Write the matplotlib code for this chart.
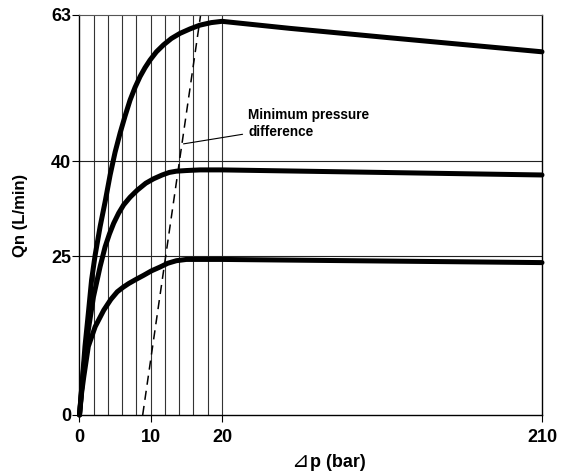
import numpy as np
import matplotlib

matplotlib.use("Agg")
import matplotlib.pyplot as plt

# readings (x in bar, y in L/min)
curve_63_x = [0, 0.4, 0.77, 1.24, 1.7, 2.2, 2.9, 3.6, 4.3, 5.0, 5.7, 6.4, 7.1, 7.8, 8.5,
              9.2, 9.9, 10.8, 11.8, 12.9, 14.1, 15.5, 16.9, 18.5, 20.0, 60, 120, 210]
curve_63_y = [0, 5.5, 10.8, 16.0, 21.3, 25.2, 29.7, 33.6, 37.8, 41.4, 44.4, 47.1, 49.6, 51.6, 53.3,
              54.7, 55.9, 57.2, 58.3, 59.3, 60.1, 60.8, 61.4, 61.8, 62.0, 60.9, 59.4, 57.2]

curve_40_x = [0, 0.3, 0.6, 1.24, 1.96, 2.9, 3.6, 4.2, 4.8, 5.5, 6.2, 7.1, 8.1, 9.3, 10.4,
              11.6, 12.6, 13.6, 15.0, 16.9, 20.0, 210]
curve_40_y = [0, 4.0, 7.6, 13.4, 18.6, 23.4, 26.5, 28.5, 30.2, 31.8, 33.1, 34.3, 35.4, 36.5, 37.2,
              37.8, 38.2, 38.4, 38.5, 38.6, 38.6, 37.8]

curve_25_x = [0, 0.3, 0.6, 1.24, 2.2, 3.4, 4.4, 5.3, 6.1, 6.9, 8.0, 9.0, 10.1, 11.3, 12.4,
              13.6, 15.0, 16.5, 20.0, 210]
curve_25_y = [0, 3.5, 6.0, 10.8, 13.9, 16.5, 18.2, 19.4, 20.1, 20.7, 21.4, 22.0, 22.7, 23.3, 23.9,
              24.3, 24.5, 24.5, 24.5, 24.0]

min_dp_x = [8.87, 17.0]
min_dp_y = [0, 63]

grid_x = [2, 4, 6, 8, 10, 12, 14, 16, 18, 20]
grid_y = [25, 40]
x_ticks = [0, 10, 20, 210]
y_ticks = [0, 25, 40, 63]

# 0..20 bar is stretched, 20..210 bar compressed
K = 0.2364


def fwd(x):
    x = np.asarray(x, dtype=float)
    return np.where(x <= 20, x, 20 + (x - 20) * K)


def inv(u):
    u = np.asarray(u, dtype=float)
    return np.where(u <= 20, u, 20 + (u - 20) / K)


plt.rcParams["font.family"] = ["Liberation Sans", "DejaVu Sans"]

fig = plt.figure(figsize=(5.67, 4.74), dpi=100)
ax = fig.add_axes([0.1402, 0.1245, 0.8157, 0.8439])
ax.set_xscale("function", functions=(fwd, inv))
ax.set_xlim(0, 210)
ax.set_ylim(0, 63)

for gx in grid_x:
    ax.axvline(gx, color="#333333", lw=0.8, zorder=1)
for gy in grid_y:
    ax.axhline(gy, color="#222222", lw=0.8, zorder=1)

for xs, ys in [(curve_63_x, curve_63_y), (curve_40_x, curve_40_y), (curve_25_x, curve_25_y)]:
    ax.plot(xs, ys, color="black", lw=3.6, solid_capstyle="round",
            solid_joinstyle="round", zorder=3, clip_on=False)

ax.plot(min_dp_x, min_dp_y, color="black", lw=1.1, dashes=(6, 4), zorder=2)

ax.annotate("Minimum pressure\ndifference", xy=(14.6, 42.7), xytext=(35.5, 45.9),
            fontsize=9.8, fontweight="bold", va="center", ha="left",
            linespacing=1.2,
            arrowprops=dict(arrowstyle="-", color="black", lw=0.8,
                            shrinkA=2, shrinkB=0))

ax.set_xticks(x_ticks)
ax.set_yticks(y_ticks)
ax.set_xticklabels([str(t) for t in x_ticks], fontsize=13, fontweight="bold")
ax.set_yticklabels([str(t) for t in y_ticks], fontsize=13, fontweight="bold")
ax.tick_params(axis="x", length=5, width=0.8, pad=5)
ax.tick_params(axis="y", length=5, width=0.8, pad=1)

for side in ["left", "bottom", "right"]:
    ax.spines[side].set_linewidth(1.0)
ax.spines["top"].set_color("#555555")

ax.set_ylabel("Qn (L/min)", fontsize=12, fontweight="bold")
ax.yaxis.set_label_coords(-0.112, 0.5)

# x label: thin triangle followed by bold text
fig.text(291 / 567, 0.0154, "⊿", fontsize=15, fontweight="normal",
         ha="left", va="baseline")
fig.text(310 / 567, 0.0154, "p (bar)", fontsize=13, fontweight="bold",
         ha="left", va="baseline")

fig.savefig("out.png", dpi=100)
